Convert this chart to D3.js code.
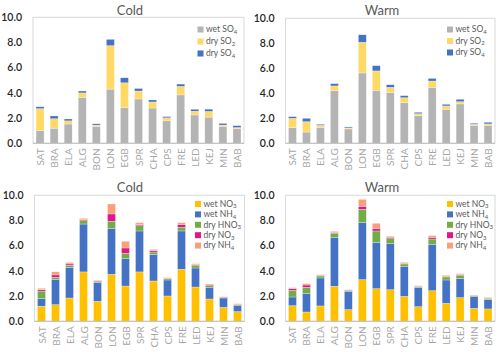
<!DOCTYPE html>
<html>
<head>
<meta charset="utf-8">
<script src="https://cdn.jsdelivr.net/npm/d3@7"></script>
<style>
  body { margin: 0; background: #fff; }
  svg { display: block; font-family: Lato, "Open Sans", sans-serif; }
</style>
</head>
<body>
<svg id="chart" width="500" height="352"></svg>
<script>
const sites = ["SAT", "BRA", "ELA", "ALG", "BON", "LON", "EGB", "SPR", "CHA", "CPS", "FRE", "LED", "KEJ", "MIN", "BAB"];
const yTicks = [0, 2, 4, 6, 8, 10];

// sulfur deposition, cold season
const coldWetSO4 = [1.0, 1.2, 1.53, 3.65, 1.35, 4.3, 2.85, 3.52, 2.8, 1.78, 3.84, 2.25, 2.08, 1.35, 1.15];
const coldDrySO2 = [1.75, 0.75, 0.25, 0.35, 0.1, 3.45, 1.95, 0.63, 0.48, 0.24, 0.68, 0.3, 0.45, 0.1, 0.1];
const coldDrySO4 = [0.15, 0.22, 0.15, 0.15, 0.1, 0.5, 0.4, 0.2, 0.16, 0.1, 0.18, 0.15, 0.18, 0.13, 0.15];

// sulfur deposition, warm season
const warmWetSO4 = [1.25, 0.9, 1.28, 4.21, 1.15, 5.63, 4.24, 4.08, 3.25, 2.21, 4.48, 2.72, 3.15, 1.44, 1.45];
const warmDrySO2 = [0.75, 0.83, 0.16, 0.38, 0.08, 2.45, 1.55, 0.4, 0.4, 0.16, 0.5, 0.27, 0.18, 0.08, 0.1];
const warmDrySO4 = [0.13, 0.27, 0.08, 0.18, 0.08, 0.6, 0.42, 0.2, 0.16, 0.11, 0.21, 0.13, 0.19, 0.08, 0.13];

// nitrogen deposition, cold season
const coldWetNO3 = [1.2, 1.32, 1.85, 3.92, 1.59, 3.73, 2.8, 3.92, 3.2, 2.01, 4.13, 2.72, 1.77, 1.11, 0.77];
const coldWetNH4 = [0.6, 2.0, 2.44, 3.8, 1.5, 3.65, 2.17, 3.25, 2.12, 1.27, 3.04, 1.51, 0.93, 0.74, 0.47];
const coldDryHNO3 = [0.6, 0.18, 0.15, 0.27, 0.07, 0.56, 0.43, 0.42, 0.18, 0.1, 0.29, 0.21, 0.13, 0.05, 0.08];
const coldDryNO3 = [0.1, 0.18, 0.11, 0.08, 0.05, 0.58, 0.42, 0.08, 0.11, 0.03, 0.2, 0.05, 0.05, 0.03, 0.03];
const coldDryNH4 = [0.12, 0.25, 0.11, 0.1, 0.06, 0.79, 0.53, 0.16, 0.1, 0.06, 0.17, 0.08, 0.08, 0.03, 0.05];

// nitrogen deposition, warm season
const warmWetNO3 = [1.24, 0.74, 1.22, 2.78, 0.93, 3.31, 2.59, 2.51, 1.98, 1.16, 2.43, 1.43, 1.88, 1.03, 0.98];
const warmWetNH4 = [0.69, 1.48, 2.22, 3.89, 1.45, 4.52, 3.68, 3.65, 2.39, 1.54, 3.68, 1.85, 1.53, 0.93, 0.74];
const warmDryHNO3 = [0.53, 0.48, 0.16, 0.31, 0.08, 1.06, 0.9, 0.4, 0.18, 0.05, 0.42, 0.24, 0.24, 0.08, 0.08];
const warmDryNO3 = [0.13, 0.18, 0.05, 0.06, 0.03, 0.24, 0.21, 0.11, 0.05, 0.03, 0.14, 0.05, 0.05, 0.02, 0.03];
const warmDryNH4 = [0.08, 0.11, 0.05, 0.1, 0.02, 0.55, 0.4, 0.08, 0.08, 0.05, 0.13, 0.08, 0.08, 0.03, 0.07];

// legend labels: main text + subscript
const sulfurNames = ["wet SO", "dry SO", "dry SO"];
const sulfurSubs = ["4", "2", "4"];
const nitrogenNames = ["wet NO", "wet NH", "dry HNO", "dry NO", "dry NH"];
const nitrogenSubs = ["3", "4", "3", "3", "4"];

const sulfurColors = ["#b4b4b4", "#ffd966", "#4472c4"];
const nitrogenColors = ["#ffc000", "#4472c4", "#70ad47", "#e0168c", "#f9a07a"];

const svg = d3.select("#chart");

function drawPanel(opts) {
    const { title, series, names, subs, colors, box, titleX, titleY, legendX, legendY, legendStep } = opts;

    const x = d3.scaleBand()
        .domain(sites)
        .range([box.left, box.right])
        .paddingInner(0.43)
        .paddingOuter(0.215);

    const y = d3.scaleLinear()
        .domain([0, 10])
        .range([box.bottom, box.top]);

    // stack the series for each site
    const rows = sites.map((s, i) => {
        const r = { site: s };
        series.forEach((arr, k) => r["k" + k] = arr[i]);
        return r;
    });
    const keys = series.map((_, k) => "k" + k);
    const stacked = d3.stack().keys(keys)(rows);

    const g = svg.append("g");

    // plot area border
    g.append("rect")
        .attr("x", box.left)
        .attr("y", box.top)
        .attr("width", box.right - box.left)
        .attr("height", box.bottom - box.top)
        .attr("fill", "none")
        .attr("stroke", "#d9d9d9")
        .attr("stroke-width", 1);

    g.selectAll(".layer")
        .data(stacked)
        .join("g")
        .attr("class", "layer")
        .attr("fill", (d, i) => colors[i])
        .selectAll("rect")
        .data(d => d)
        .join("rect")
        .attr("x", d => x(d.data.site))
        .attr("y", d => y(d[1]))
        .attr("width", x.bandwidth())
        .attr("height", d => Math.max(0, y(d[0]) - y(d[1])))
        .attr("stroke", "#ffffff")
        .attr("stroke-width", 0.4)
        .attr("stroke-opacity", 0.7);

    // baseline
    g.append("line")
        .attr("x1", box.left)
        .attr("x2", box.right)
        .attr("y1", y(0))
        .attr("y2", y(0))
        .attr("stroke", "#bfbfbf");

    // y tick labels
    g.selectAll(".ytick")
        .data(yTicks)
        .join("text")
        .attr("class", "ytick")
        .attr("x", box.left - 11)
        .attr("y", d => y(d))
        .attr("dy", "0.35em")
        .attr("text-anchor", "end")
        .attr("fill", "#262626")
        .attr("font-size", "10.5px")
        .attr("font-weight", 600)
        .text(d => d.toFixed(1));

    // x labels, rotated
    g.selectAll(".xlab")
        .data(sites)
        .join("text")
        .attr("class", "xlab")
        .attr("transform", d => `translate(${x(d) + x.bandwidth() / 2 + 0.5}, ${box.bottom + 5}) rotate(-90)`)
        .attr("text-anchor", "end")
        .attr("dy", "0.35em")
        .attr("fill", "#a6a6a6")
        .attr("font-size", "10px")
        .text(d => d);

    // title
    g.append("text")
        .attr("x", titleX)
        .attr("y", titleY)
        .attr("text-anchor", "middle")
        .attr("fill", "#595959")
        .attr("font-size", "13px")
        .attr("font-weight", 400)
        .text(title);

    // legend
    const legend = g.append("g")
        .attr("transform", `translate(${legendX}, ${legendY})`);

    const items = legend.selectAll("g")
        .data(names)
        .join("g")
        .attr("transform", (d, i) => `translate(0, ${i * legendStep})`);

    items.append("rect")
        .attr("x", 0)
        .attr("y", -3)
        .attr("width", 6)
        .attr("height", 6)
        .attr("fill", (d, i) => colors[i]);

    const label = items.append("text")
        .attr("x", 8.5)
        .attr("y", 0)
        .attr("dy", "0.33em")
        .attr("fill", "#595959")
        .attr("font-size", "8.5px");
    label.append("tspan").text(d => d);
    label.append("tspan")
        .attr("font-size", "6px")
        .attr("dy", 1.5)
        .text((d, i) => subs[i]);
}

drawPanel({
    title: "Cold",
    series: [coldWetSO4, coldDrySO2, coldDrySO4],
    names: sulfurNames, subs: sulfurSubs, colors: sulfurColors,
    box: { left: 33, right: 244, top: 17.3, bottom: 143.3 },
    titleX: 130, titleY: 14.5,
    legendX: 197.5, legendY: 29.5, legendStep: 12
});

drawPanel({
    title: "Warm",
    series: [warmWetSO4, warmDrySO2, warmDrySO4],
    names: sulfurNames, subs: sulfurSubs, colors: sulfurColors,
    box: { left: 285.5, right: 495, top: 18.3, bottom: 143.3 },
    titleX: 382, titleY: 14.5,
    legendX: 447, legendY: 29.5, legendStep: 11.5
});

drawPanel({
    title: "Cold",
    series: [coldWetNO3, coldWetNH4, coldDryHNO3, coldDryNO3, coldDryNH4],
    names: nitrogenNames, subs: nitrogenSubs, colors: nitrogenColors,
    box: { left: 34.5, right: 244.5, top: 195.3, bottom: 321.3 },
    titleX: 130, titleY: 191.5,
    legendX: 195, legendY: 204, legendStep: 10.4
});

drawPanel({
    title: "Warm",
    series: [warmWetNO3, warmWetNH4, warmDryHNO3, warmDryNO3, warmDryNH4],
    names: nitrogenNames, subs: nitrogenSubs, colors: nitrogenColors,
    box: { left: 285.5, right: 495, top: 195.3, bottom: 321.3 },
    titleX: 382, titleY: 191.5,
    legendX: 447, legendY: 204, legendStep: 10.4
});
</script>
</body>
</html>
